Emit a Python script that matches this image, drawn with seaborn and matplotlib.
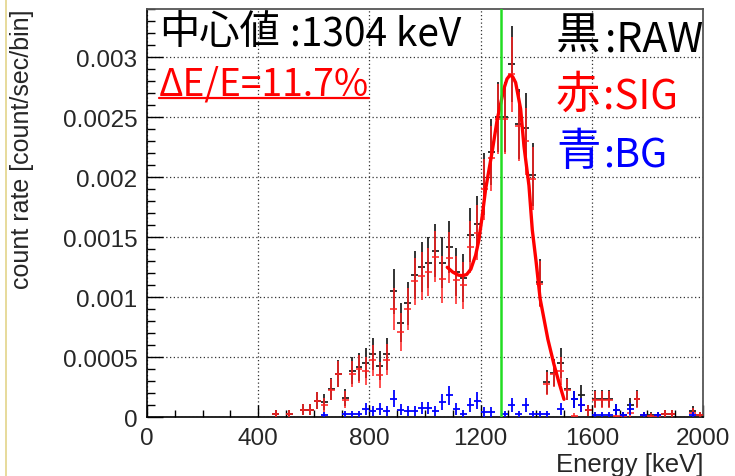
import numpy as np
import pandas as pd
import matplotlib
matplotlib.use('Agg')
import matplotlib.pyplot as plt
import seaborn as sns
from matplotlib.lines import Line2D
from matplotlib.ticker import MultipleLocator

nan = np.nan

# histogram: 25 keV bins, centres 462.5 ... 1987.5 keV
bin_width = 25.0
energy = np.arange(462.5, 2000.0, bin_width)

# rates in units of 1e-4 count/sec/bin
raw = [0.3, nan, 0.3, nan, 0.65, 0.65, 1.4, 1.3, 2.35, 3.65,
       1.65, 3.9, 4.2, 4.55, 5.25, 4.3, 5.3, 10.5, 7.9, 9.5,
       11.85, 12.55, 12.9, 13.9, 12.9, 14.2, 12.1, 11.6, 15.2, 16.1,
       19.45, 22.1, 25.0, 25.0, 29.45, 24.45, 24.15, 20.2, 11.25, 2.95,
       3.7, 4.55, 2.35, 1.5, 1.9, 0.6, 1.55, 1.55, 1.55, 0.65,
       0.2, 1.0, 1.55, 0.2, 0.2, 0.2, 0.3, 0.3, nan, nan,
       0.55, 0.2]
sig = [0.3, nan, 0.3, nan, 0.65, 0.65, 1.4, 1.05, 2.3, 3.6,
       1.45, 3.6, 4.05, 3.85, 4.75, 3.55, 4.8, 9.0, 7.1, 9.0,
       11.35, 11.75, 12.1, 13.4, 11.5, 13.3, 11.45, 11.0, 14.2, 15.4,
       19.0, 21.6, 24.85, 24.85, 28.6, 24.25, 23.0, 19.9, 11.1, 2.8,
       3.6, 3.85, 2.3, 0.15, 1.0, 0.6, 1.45, 1.45, 1.45, 0.1,
       0.1, 0.4, 1.5, 0.2, 0.15, 0.1, 0.3, 0.3, nan, nan,
       0.4, 0.2]
bg = [nan, nan, nan, nan, nan, nan, nan, 0.2, nan, nan,
      0.25, 0.25, 0.25, 0.7, 0.5, 0.7, 0.5, 1.55, 0.65, 0.5,
      0.5, 0.75, 0.75, 0.5, 1.3, 1.85, 0.7, 0.3, 1.0, 1.4,
      0.45, 0.45, nan, 0.25, 1.0, 0.25, 1.0, 0.25, 0.25, 0.25,
      nan, 0.7, nan, 1.5, 1.0, nan, 0.2, 0.2, 0.2, 0.65,
      0.2, 0.7, nan, 0.2, nan, 0.2, nan, nan, nan, nan,
      0.2, nan]
count_unit = 0.34  # rate of one count (1e-4 units), for Poisson error bars

# peak fit curve (1e-4 units)
fit_energy = [1080, 1100, 1120, 1135, 1150, 1165, 1182, 1194, 1206, 1218,
              1230, 1242, 1260, 1284, 1295, 1305, 1315, 1326, 1344, 1356,
              1374, 1386, 1400, 1414, 1428, 1442, 1464, 1482, 1500]
fit_rate = [12.5, 12.1, 11.85, 11.8, 11.9, 12.35, 13.5, 14.8, 16.8, 19.0,
            20.6, 22.2, 24.85, 27.4, 28.2, 28.5, 28.4, 27.9, 25.7, 22.6,
            19.3, 15.6, 12.9, 9.9, 8.2, 6.5, 4.4, 2.9, 1.5]
gate_energy = 1275

xticks = [0, 400, 800, 1200, 1600, 2000]
yticks = [0, 0.0005, 0.001, 0.0015, 0.002, 0.0025, 0.003]
ytick_labels = ["0", "0.0005", "0.001", "0.0015", "0.002", "0.0025", "0.003"]

scale = 1e-4
df = pd.DataFrame({"energy": energy, "raw": raw, "sig": sig, "bg": bg})
for col in ["raw", "sig", "bg"]:
    df[col + "_err"] = np.sqrt(df[col].abs() * count_unit) * scale
    df[col] = df[col] * scale
fit = pd.DataFrame({"energy": fit_energy, "rate": np.array(fit_rate) * scale})

sns.set_style("ticks")
plt.rcParams['font.family'] = ['Liberation Sans', 'DejaVu Sans']

W, H = 735, 477
fig, ax = plt.subplots(figsize=(W / 100, H / 100), dpi=100)
fig.subplots_adjust(left=147 / W, right=703 / W, bottom=1 - 418.3 / H, top=1 - 9.5 / H)

ax.errorbar(df["energy"], df["raw"], xerr=bin_width / 2, yerr=df["raw_err"], fmt='none',
            ecolor='#222222', elinewidth=1.3, capsize=0, zorder=3)
ax.errorbar(df["energy"], df["sig"], xerr=bin_width / 2, yerr=df["sig_err"], fmt='none',
            ecolor='#ff2020', elinewidth=1.3, capsize=0, alpha=0.85, zorder=4)
ax.errorbar(df["energy"], df["bg"], xerr=bin_width / 2, yerr=df["bg_err"], fmt='none',
            ecolor='#0000ff', elinewidth=1.3, capsize=0, zorder=5)
sns.lineplot(data=fit, x="energy", y="rate", color='#ff0000', linewidth=2.4,
             sort=False, ax=ax, zorder=6)
ax.axvline(gate_energy, color='#22dd22', linewidth=1.8, zorder=7)

ax.set_xlim(0, 2000)
ax.set_ylim(0, 0.003407)
ax.set_xticks(xticks)
ax.set_yticks(yticks, labels=ytick_labels)
ax.xaxis.set_minor_locator(MultipleLocator(100))
ax.yaxis.set_minor_locator(MultipleLocator(0.0001))
ax.grid(True, which='major', color='#333333', linestyle=(0, (1, 2)), linewidth=0.9)
ax.tick_params(axis='both', which='both', direction='in', top=False, right=False,
               labelsize=17.5, pad=7, color='black')
ax.tick_params(axis='y', which='major', length=11.5, width=1)
ax.tick_params(axis='y', which='minor', length=5.8, width=1)
ax.tick_params(axis='x', which='major', length=8.6, width=1)
ax.tick_params(axis='x', which='minor', length=5, width=1)
for side in ['top', 'right']:
    ax.spines[side].set_color('#555555')
    ax.spines[side].set_linewidth(1.3)
for side in ['left', 'bottom']:
    ax.spines[side].set_color('black')
    ax.spines[side].set_linewidth(1.2)

ax.set_ylabel("count rate [count/sec/bin]", fontsize=18, loc='top')
ax.yaxis.set_label_coords(-0.203, 1.0)
ax.set_xlabel("Energy [keV]", fontsize=18.5, loc='right', labelpad=2)

cjk = ['Noto Sans CJK JP', 'DejaVu Sans']


def put(x, y, s, size, color, **kw):
    return fig.text(x / W, 1 - y / H, s, fontsize=size, color=color, family=cjk,
                    ha='left', va='baseline', **kw)


put(159, 44, "中心値", 29, 'black')
put(290, 45, ":1304 keV", 28, 'black')
t_res = put(159, 95, "ΔE/E=11.7%", 26.8, '#ff0000')
put(556, 50, "黒", 32, 'black')
put(605, 52, ":RAW", 29.5, 'black')
put(556, 108, "赤", 32, '#ff0000')
put(603, 110, ":SIG", 29, '#ff0000')
put(556, 165, "青", 32, '#0000ff')
put(603, 167, ":BG", 28.5, '#0000ff')

# underline for the resolution text
fig.canvas.draw()
bb = t_res.get_window_extent()
fig.add_artist(Line2D([bb.x0 / W, bb.x1 / W], [1 - 98.5 / H, 1 - 98.5 / H],
                      color='#ff0000', linewidth=1.6))
# slide border on the far left
fig.add_artist(Line2D([6 / W, 6 / W], [0, 1], color='#e3d48a', linewidth=1.2))

fig.savefig("out.png", dpi=100)
